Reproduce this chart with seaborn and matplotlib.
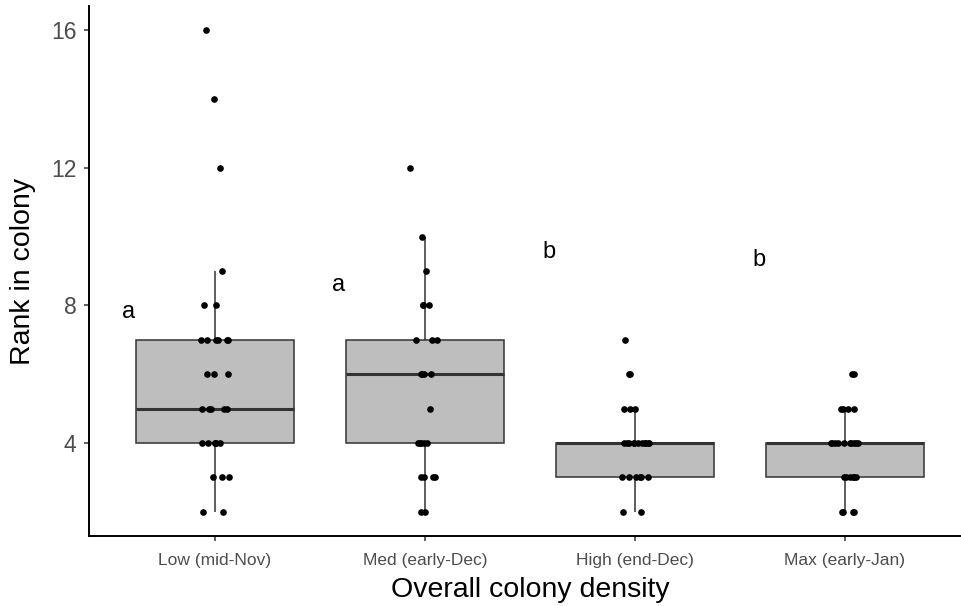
import numpy as np
import pandas as pd
import matplotlib
matplotlib.use("Agg")
import matplotlib.pyplot as plt
import seaborn as sns

# ---- data ----
categories = ["Low (mid-Nov)", "Med (early-Dec)", "High (end-Dec)", "Max (early-Jan)"]
rank_low = [2, 2, 3, 3, 3, 4, 4, 4, 4, 4, 4, 5, 5, 5, 5, 5, 6, 6, 6,
            7, 7, 7, 7, 7, 7, 8, 8, 9, 12, 14, 16]
rank_med = [2, 2, 3, 3, 3, 3, 4, 4, 4, 4, 4, 5, 6, 6, 6, 6, 7, 7, 7,
            8, 8, 8, 9, 10, 12]
rank_high = [2, 2, 3, 3, 3, 3, 3, 3, 4, 4, 4, 4, 4, 4, 4, 4, 4, 4, 4,
             5, 5, 5, 6, 6, 7]
rank_max = [2, 2, 2, 2, 3, 3, 3, 3, 3, 3, 4, 4, 4, 4, 4, 4, 4, 4, 4, 4,
            5, 5, 5, 5, 6, 6]
group_letters = ["a", "a", "b", "b"]
letter_y = [7.64, 8.42, 9.38, 9.15]
y_ticks = [4, 8, 12, 16]

series = [rank_low, rank_med, rank_high, rank_max]
df = pd.DataFrame({
    "density": np.concatenate([[c] * len(v) for c, v in zip(categories, series)]),
    "rank": np.concatenate(series),
})

sns.set_style("ticks")
plt.rcParams["font.family"] = ["Liberation Sans", "DejaVu Sans"]

fig = plt.figure(figsize=(9.61, 6.06), dpi=100)
ax = fig.add_axes([89 / 961, 70 / 606, 4.2 * 210 / 961, 530 / 606])

sns.boxplot(data=df, x="density", y="rank", order=categories, ax=ax,
            color="#BEBEBE", saturation=1, width=0.75, showcaps=False,
            showfliers=False, linecolor="#333333", linewidth=1.1,
            medianprops=dict(linewidth=2.2, color="#333333"))
np.random.seed(7)
sns.stripplot(data=df, x="density", y="rank", order=categories, ax=ax,
              color="black", size=4.8, jitter=0.07, linewidth=0, zorder=3)

for i, (lab, yy) in enumerate(zip(group_letters, letter_y)):
    ax.text(i - 0.41, yy, lab, ha="center", va="baseline", fontsize=17,
            color="black")

ax.set_xlim(-0.6, 3.6)
ax.set_ylim(1.3, 16.7)
ax.set_yticks(y_ticks)
ax.set_xlabel("Overall colony density", fontsize=20.5, labelpad=6, color="black")
ax.set_ylabel("Rank in colony", fontsize=20.5, labelpad=11, color="black")
ax.tick_params(axis="y", labelsize=16.5, labelcolor="#4D4D4D", length=3.6,
               width=1.1, color="#333333", pad=5.5)
ax.tick_params(axis="x", labelsize=12.5, labelcolor="#4D4D4D", length=3.6,
               width=1.1, color="#333333", pad=9)
for s in ["top", "right"]:
    ax.spines[s].set_visible(False)
for s in ["left", "bottom"]:
    ax.spines[s].set_linewidth(1.4)
    ax.spines[s].set_color("black")
ax.grid(False)

fig.savefig("out.png", dpi=100)
